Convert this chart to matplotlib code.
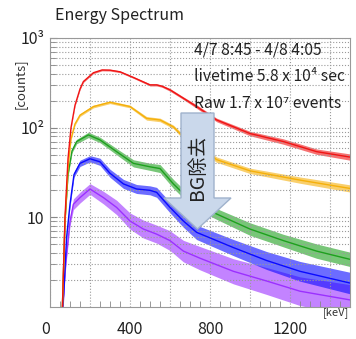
import numpy as np
import matplotlib
matplotlib.use('Agg')
from matplotlib import pyplot as plt
from matplotlib.patches import Polygon
from matplotlib.ticker import MultipleLocator, LogLocator, NullFormatter

plt.rcParams['font.family'] = ['Noto Sans CJK JP', 'DejaVu Sans']

#spectra, energy in keV, counts per channel, S = noise half-width in decades
red_E   = [62, 75, 90, 105, 125, 150, 167, 217, 260, 300, 350, 417, 500, 533, 560, 600, 667, 733, 833, 1000, 1167, 1333, 1500]
red_C   = [1, 10, 45, 100, 178, 270, 327, 410, 440, 438, 420, 363, 300, 300, 290, 264, 213, 172, 122, 86, 70, 54, 47]
red_S   = [0.02, 0.02, 0.01, 0.01, 0.01, 0.01, 0.01, 0.01, 0.01, 0.01, 0.01, 0.01, 0.012, 0.012, 0.012, 0.015, 0.015, 0.02, 0.02, 0.025, 0.03, 0.03, 0.035]

orange_E = [62, 75, 90, 105, 125, 150, 217, 300, 400, 483, 550, 617, 650, 833, 1000, 1250, 1500]
orange_C = [1, 9, 35, 75, 110, 138, 172, 192, 172, 127, 122, 102, 86, 44, 33, 26, 21]
orange_S = [0.02, 0.02, 0.015, 0.015, 0.015, 0.015, 0.015, 0.015, 0.015, 0.02, 0.02, 0.02, 0.025, 0.03, 0.03, 0.035, 0.04]

green_E = [62, 75, 90, 110, 133, 192, 250, 333, 417, 500, 550, 617, 650, 750, 833, 1000, 1167, 1333, 1500]
green_C = [1, 9, 30, 55, 70, 83, 73, 54, 40, 36.6, 35, 23.6, 20, 13.5, 10.9, 7.4, 5.5, 4.2, 3.4]
green_S = [0.02, 0.02, 0.02, 0.02, 0.025, 0.03, 0.03, 0.035, 0.04, 0.04, 0.045, 0.05, 0.05, 0.06, 0.06, 0.07, 0.07, 0.08, 0.08]

blue_E = [63, 70, 83, 100, 120, 150, 200, 250, 300, 367, 433, 500, 533, 600, 667, 733, 917, 1083, 1250, 1500]
blue_C = [1, 1.6, 6, 14, 30, 40, 45, 41.6, 31, 23.6, 20.7, 20, 19, 12.9, 9.1, 6.8, 4.6, 3.3, 2.5, 1.85]
blue_S = [0.03, 0.03, 0.03, 0.03, 0.03, 0.035, 0.035, 0.04, 0.045, 0.05, 0.05, 0.05, 0.055, 0.06, 0.07, 0.08, 0.09, 0.1, 0.11, 0.12]

purple_E = [65, 75, 83, 100, 117, 150, 200, 267, 333, 400, 467, 533, 600, 667, 750, 917, 1083, 1250, 1500]
purple_C = [1, 2.5, 3.9, 9, 14, 16.6, 20.7, 16.6, 12.9, 9.1, 7.4, 6.5, 5.5, 4.2, 3.5, 2.5, 1.95, 1.5, 1.2]
purple_S = [0.05, 0.05, 0.05, 0.05, 0.06, 0.06, 0.06, 0.07, 0.08, 0.09, 0.1, 0.1, 0.11, 0.12, 0.13, 0.14, 0.15, 0.16, 0.17]

series = [(purple_E, purple_C, purple_S, '#9b30ff'),
          (blue_E, blue_C, blue_S, '#0a0aff'),
          (green_E, green_C, green_S, '#1ea01e'),
          (orange_E, orange_C, orange_S, '#f5b00a'),
          (red_E, red_C, red_S, '#f01414')]

xlabels = {0: '0', 400: '400', 800: '800', 1200: '1200'}
yticks = [10, 100, 1000]
yticklabels = ['10', '10²', '10³']
info_lines = ['4/7 8:45 - 4/8 4:05', 'livetime 5.8 x 10⁴ sec', 'Raw 1.7 x 10⁷ events']

W, H = 356, 339
fig = plt.figure(figsize=(W/100, H/100), dpi=100)
ax = fig.add_axes([50/W, 1-307/H, 300/W, 269/H])

for E, C, S, col in series:
    E = np.array(E); C = np.array(C); S = np.array(S)
    ax.fill_between(E, C*10**(-S), C*10**S, color=col, alpha=0.6, lw=0)
    ax.plot(E, C, color=col, lw=1.0)

ax.set_yscale('log')
ax.set_xlim(0, 1500)
ax.set_ylim(1, 1000)

#grid every 200 keV, labels every 400
ax.xaxis.set_major_locator(MultipleLocator(200))
ax.xaxis.set_minor_locator(MultipleLocator(50))
ax.set_xticklabels([xlabels.get(int(t), '') for t in ax.get_xticks()])
ax.set_yticks(yticks)
ax.set_yticklabels(yticklabels)
ax.yaxis.set_minor_locator(LogLocator(base=10, subs=np.arange(2, 10)))
ax.yaxis.set_minor_formatter(NullFormatter())

ax.tick_params(axis='both', which='both', direction='in', color='#888888', labelsize=11.5, labelcolor='#222222')
ax.tick_params(axis='x', which='major', length=0, pad=10)
ax.tick_params(axis='x', which='minor', length=4)
ax.tick_params(axis='y', which='major', length=5, pad=4)
ax.tick_params(axis='y', which='minor', length=4)
for lab in ax.get_xticklabels():
    if lab.get_text() == '0':
        lab.set_ha('right')

ax.grid(True, which='major', axis='x', ls=':', color='#9a9a9a', lw=0.8)
ax.grid(True, which='both', axis='y', ls=':', color='#9a9a9a', lw=0.8)
for sp in ax.spines.values():
    sp.set_color('#999999')

#BG removal arrow, in axes fraction
def af(x, y):
    return ((x-50)/300, (307-y)/269)
pts = [af(181, 113), af(214, 113), af(214, 198), af(231, 198), af(197.5, 229),
       af(164, 198), af(181, 198)]
ax.add_patch(Polygon(pts, closed=True, transform=ax.transAxes, fc='#cad8eb', ec='#9fb2cc', lw=1, zorder=5))
ax.text(0.492, (307-167)/269, 'BG除去', transform=ax.transAxes, rotation=90, ha='center', va='center',
        fontsize=14, color='#222222', zorder=6)

for i, s in enumerate(info_lines):
    ax.text((194-50)/300, (307-(50+26.5*i))/269, s, transform=ax.transAxes, ha='left', va='center',
            fontsize=11.3, color='#222222', zorder=6)

fig.text(55/W, 1-15/H, 'Energy Spectrum', ha='left', va='center', fontsize=11.5, color='#222222')
fig.text(20/W, 1-84/H, '[counts]', rotation=90, ha='center', va='center', fontsize=9.5, color='#333333')
fig.text(336/W, 1-313/H, '[keV]', ha='center', va='center', fontsize=8, color='#333333')

fig.savefig('out.png', dpi=100)
